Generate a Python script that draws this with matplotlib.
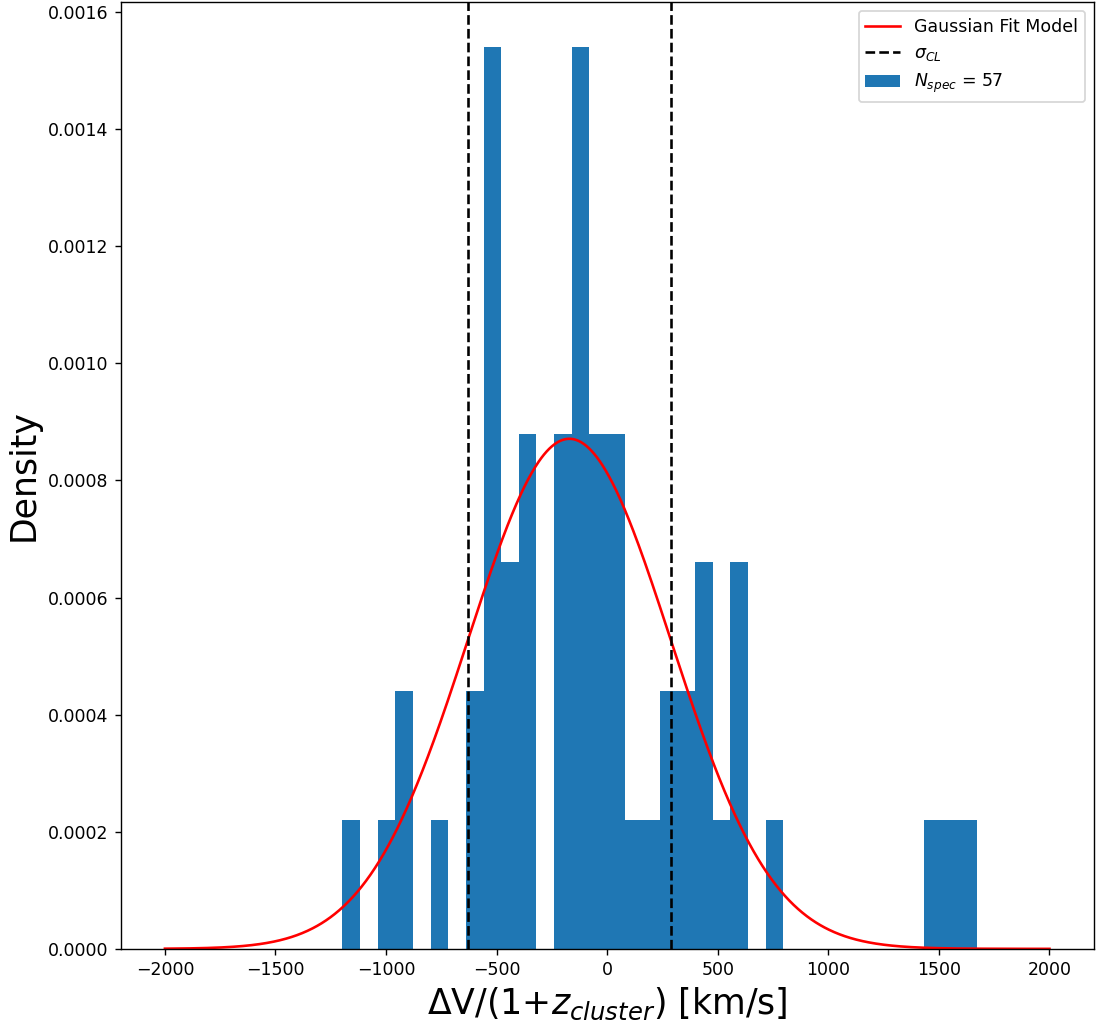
import numpy as np
import matplotlib
matplotlib.use("Agg")
import matplotlib.pyplot as plt

# Velocity offsets binned into 36 equal-width bins (counts)
v_min = -1197.0
v_max = 1674.0
bin_counts = [1, 0, 1, 2, 0, 1, 0, 2, 7, 3, 4, 0, 4, 7, 4, 4, 1, 1,
              2, 2, 3, 1, 3, 0, 1, 0, 0, 0, 0, 0, 0, 0, 0, 1, 1, 1]
n_spec = 57

# Gaussian fit parameters
mu_fit = -171.0
sigma_fit = 458.0
model_range = (-2000, 2000)

edges = np.linspace(v_min, v_max, len(bin_counts) + 1)
centers = 0.5 * (edges[:-1] + edges[1:])

x_model = np.linspace(model_range[0], model_range[1], 1000)
y_model = np.exp(-0.5 * ((x_model - mu_fit) / sigma_fit) ** 2) / (sigma_fit * np.sqrt(2 * np.pi))

dpi = 125
fig, ax = plt.subplots(figsize=(1097 / dpi, 1028 / dpi), dpi=dpi)
fig.subplots_adjust(left=0.110, right=0.997, top=0.998, bottom=0.077)

ax.plot(x_model, y_model, color="red", label="Gaussian Fit Model")
ax.axvline(mu_fit - sigma_fit, color="black", linestyle="--", label=r"$\sigma_{CL}$")
ax.axvline(mu_fit + sigma_fit, color="black", linestyle="--")
ax.hist(centers, bins=edges, weights=bin_counts, density=True,
        color="#1f77b4", label=r"$N_{spec}$ = %d" % n_spec)

ax.set_xlabel(r"$\Delta$V/(1+$z_{cluster}$) [km/s]", fontsize=20)
ax.set_ylabel("Density", fontsize=20)
ax.legend(loc="upper right")

fig.savefig("out.png", dpi=dpi)
